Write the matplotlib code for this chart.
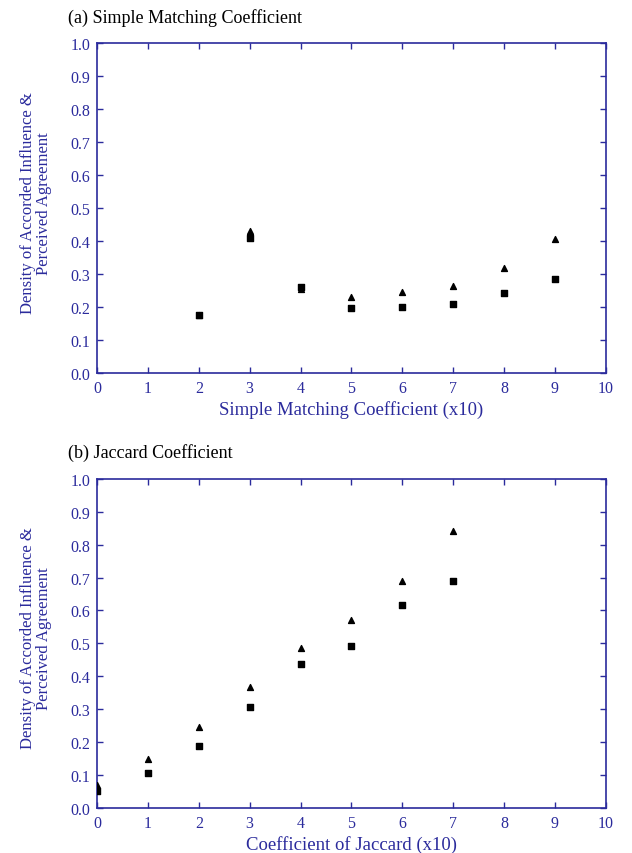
import matplotlib.pyplot as plt
import numpy as np

plt.rcParams['font.family'] = ['Liberation Serif', 'DejaVu Serif']

blue = "#2b2b9c"

# (a) Simple Matching Coefficient
smc_x = [2, 3, 4, 5, 6, 7, 8, 9]
smc_influence = [0.175, 0.430, 0.255, 0.230, 0.245, 0.265, 0.320, 0.408]
smc_agreement = [0.175, 0.410, 0.260, 0.198, 0.200, 0.210, 0.242, 0.285]

# (b) Jaccard Coefficient
jac_x = [0, 1, 2, 3, 4, 5, 6, 7]
jac_influence = [0.070, 0.148, 0.245, 0.368, 0.487, 0.572, 0.690, 0.842]
jac_agreement = [0.050, 0.107, 0.187, 0.307, 0.437, 0.493, 0.617, 0.690]

fig = plt.figure(figsize=(6.32, 8.54), dpi=100)
ax1 = fig.add_axes([0.1535, 0.562, 0.805, 0.386])
ax2 = fig.add_axes([0.1535, 0.053, 0.805, 0.385])

panels = [
    (ax1, smc_x, smc_influence, smc_agreement,
     "(a) Simple Matching Coefficient", "Simple Matching Coefficient (x10)"),
    (ax2, jac_x, jac_influence, jac_agreement,
     "(b) Jaccard Coefficient", "Coefficient of Jaccard (x10)"),
]

for ax, x, tri, sq, title, xlabel in panels:
    # triangles and squares, same x positions
    ax.scatter(x, tri, marker="^", s=18, color="black", zorder=3)
    ax.scatter(x, sq, marker="s", s=16, color="black", zorder=3)
    ax.set_xlim(0, 10)
    ax.set_ylim(0, 1.0)
    ax.set_xticks(np.arange(0, 11, 1))
    ax.set_yticks(np.arange(0, 1.01, 0.1))
    ax.set_yticklabels([f"{v:.1f}" for v in np.arange(0, 1.01, 0.1)])
    ax.tick_params(direction="in", top=True, right=True, length=4, pad=5,
                   color=blue, labelcolor=blue, labelsize=11.5, width=1)
    for sp in ax.spines.values():
        sp.set_color(blue)
        sp.set_linewidth(1.2)
    ax.set_xlabel(xlabel, color=blue, fontsize=13.5, labelpad=3)
    ax.set_ylabel("Density of Accorded Influence &\nPerceived Agreement",
                  color=blue, fontsize=12, linespacing=1.05)
    ax.yaxis.set_label_coords(-0.088, 0.518)
    ax.text(-0.057, 1.066, title, transform=ax.transAxes, fontsize=13,
            color="black", ha="left", va="baseline")

fig.savefig("out.png", dpi=100)
